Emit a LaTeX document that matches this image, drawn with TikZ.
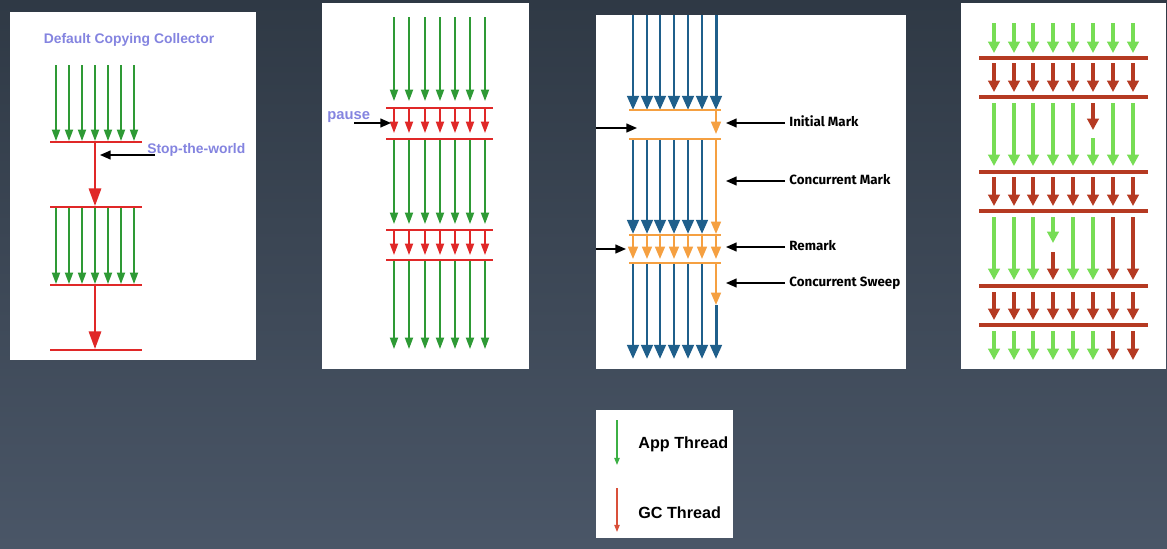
\documentclass[tikz,border=0pt]{standalone}
\usepackage{fontspec}
\setmainfont{Liberation Sans}
\newfontfamily\phasefont{Fira Sans}
\usetikzlibrary{arrows.meta}
\definecolor{bgtop}{HTML}{2F3945}
\definecolor{bgbot}{HTML}{4A5667}
\definecolor{appgreen}{HTML}{2E9A35}
\definecolor{gcred}{HTML}{E02828}
\definecolor{lavender}{HTML}{8484E0}
\definecolor{cmsblue}{HTML}{1F5F8B}
\definecolor{cmsorange}{HTML}{F5A041}
\definecolor{lightgreen}{HTML}{77DD55}
\definecolor{darkred}{HTML}{B53A22}
\definecolor{keygreen}{HTML}{3CB044}
\definecolor{keyred}{HTML}{D9503A}

\tikzset{
  panel/.style={fill=white},
  appthin/.style={draw=appgreen, line width=0.9pt, -{Triangle[width=4.6pt,length=6.5pt]}},
  gcthin/.style={draw=gcred, line width=0.9pt, -{Triangle[width=4.6pt,length=6.5pt]}},
  gcbar/.style={draw=gcred, line width=1.2pt},
  gcbig/.style={draw=gcred, line width=1.2pt, -{Triangle[width=7pt,length=10pt]}},
  pointer/.style={draw=black, line width=0.9pt, -{Triangle[width=5pt,length=6pt]}},
  bluearr/.style={draw=cmsblue, line width=1.7pt, -{Triangle[width=6.5pt,length=8pt]}},
  orangearr/.style={draw=cmsorange, line width=1.3pt, -{Triangle[width=5.5pt,length=7pt]}},
  orangebar/.style={draw=cmsorange, line width=1.2pt},
  fatgreen/.style={draw=lightgreen, line width=2.2pt, -{Triangle[width=6.5pt,length=6.5pt]}},
  fatred/.style={draw=darkred, line width=2.2pt, -{Triangle[width=6.5pt,length=6.5pt]}},
  redbar/.style={draw=darkred, line width=2.3pt},
  lavlabel/.style={inner sep=0pt, text=lavender, font=\bfseries\fontsize{7.9}{9}\selectfont},
  phaselabel/.style={inner sep=0pt, anchor=west, font=\phasefont\bfseries\fontsize{7.6}{9}\selectfont},
  keylabel/.style={inner sep=0pt, anchor=west, font=\bfseries\fontsize{9.2}{11}\selectfont}
}

\begin{document}
\begin{tikzpicture}[x=0.02cm, y=-0.02cm]
      % slide background
      \shade[top color=bgtop, bottom color=bgbot] (0,0) rectangle (1167,548);
      \useasboundingbox (0,0) rectangle (1167,548);

      % serial collector
      \fill[panel] (10,12) rectangle (256,360);
      \node[lavlabel] (serialtitle) at (129,40) {Default Copying Collector};
      \foreach \x in {56,69,82,95,108,121,134} {
        \draw[appthin] (\x,65) -- (\x,141);
        \draw[appthin] (\x,208) -- (\x,284);
      }
      \foreach \y in {142,207,285,350}
        \draw[gcbar] (50,\y) -- (142,\y);
      \draw[gcbig] (95,142) -- (95,206);
      \draw[gcbig] (95,285) -- (95,349);
      \node[lavlabel, anchor=west] (stw) at (147,150) {Stop-the-world};
      \coordinate (stwfrom) at (155,155);
      \coordinate (stwto) at (100,155);
      \draw[pointer] (stwfrom) -- (stwto);

      % parallel collector
      \fill[panel] (322,3) rectangle (529,369);
      \foreach \x in {394,409,425,440,455,470,485} {
        \draw[appthin] (\x,17) -- (\x,101);
        \draw[gcthin] (\x,108) -- (\x,133);
        \draw[appthin] (\x,139) -- (\x,224);
        \draw[gcthin] (\x,230) -- (\x,255);
        \draw[appthin] (\x,260) -- (\x,349);
      }
      \foreach \y in {108,139,230,260}
        \draw[gcbar] (386,\y) -- (493,\y);
      \node[lavlabel, anchor=west, font=\bfseries\fontsize{8.4}{10}\selectfont] (pause) at (327,117) {pause};
      \coordinate (pausefrom) at (354,123);
      \coordinate (pauseto) at (391,123);
      \draw[pointer] (pausefrom) -- (pauseto);

      % cms collector
      \fill[panel] (596,15) rectangle (906,369);
      \foreach \x in {633,647,660,674,688,702,716}
        \draw[bluearr] (\x,15) -- (\x,110);
      \foreach \x in {633,647,660,674,688,702} {
        \draw[bluearr] (\x,139) -- (\x,234);
        \draw[bluearr] (\x,263) -- (\x,359);
      }
      \foreach \x in {633,647,660,674,688,702,716}
        \draw[orangearr] (\x,235) -- (\x,259);
      \draw[orangearr] (716,110) -- (716,134);
      \draw[orangearr] (716,139) -- (716,234);
      \draw[orangearr] (716,263) -- (716,305);
      \draw[bluearr] (716,305) -- (716,359);
      \foreach \y in {110,139,235,263}
        \draw[orangebar] (629,\y) -- (721,\y);
      \node[phaselabel] (initmark) at (789,121) {Initial Mark};
      \node[phaselabel] (concmark) at (789,180) {Concurrent Mark};
      \node[phaselabel] (remark) at (789,246) {Remark};
      \node[phaselabel] (concsweep) at (789,283) {Concurrent Sweep};
      \foreach \n/\y in {initmark/123,concmark/181,remark/247,concsweep/283} {
        \coordinate (\n to) at (726,\y);
        \draw[pointer] (\n.west |- \n to) ++(-4,0) -- (\n to);
      }
      \coordinate (initfrom) at (596,128);
      \coordinate (initto) at (637,128);
      \draw[pointer] (initfrom) -- (initto);
      \coordinate (remfrom) at (596,249);
      \coordinate (remto) at (626,249);
      \draw[pointer] (remfrom) -- (remto);

      % g1 collector
      \fill[panel] (961,3) rectangle (1166,369);
      \foreach \y in {58,97,172,211,286,325}
        \draw[redbar] (979,\y) -- (1148,\y);
      \foreach \x in {994,1014,1033,1053,1073,1093,1113,1133} {
        \draw[fatgreen] (\x,23) -- (\x,53);
        \draw[fatred] (\x,63) -- (\x,92);
        \draw[fatred] (\x,177) -- (\x,206);
        \draw[fatred] (\x,292) -- (\x,320);
      }
      \foreach \x in {994,1014,1033,1053,1073,1113,1133}
        \draw[fatgreen] (\x,103) -- (\x,166);
      \draw[fatred] (1093,103) -- (1093,130);
      \draw[fatgreen] (1093,138) -- (1093,166);
      \foreach \x in {994,1014,1033,1073,1093}
        \draw[fatgreen] (\x,217) -- (\x,280);
      \draw[fatgreen] (1053,217) -- (1053,243);
      \draw[fatred] (1053,252) -- (1053,280);
      \foreach \x in {1113,1133}
        \draw[fatred] (\x,217) -- (\x,280);
      \foreach \x in {994,1014,1033,1053,1073,1093}
        \draw[fatgreen] (\x,331) -- (\x,360);
      \foreach \x in {1113,1133}
        \draw[fatred] (\x,331) -- (\x,360);

      % key
      \fill[panel] (596,410) rectangle (733,538);
      \coordinate (appfrom) at (617,420);
      \coordinate (appto) at (617,465);
      \draw[draw=keygreen, line width=0.8pt, -{Triangle[width=3pt,length=4pt]}] (appfrom) -- (appto);
      \coordinate (gcfrom) at (617,488);
      \coordinate (gcto) at (617,532);
      \draw[draw=keyred, line width=0.8pt, -{Triangle[width=3pt,length=4pt]}] (gcfrom) -- (gcto);
      \node[keylabel] (applabel) at (638,444) {App Thread};
      \node[keylabel] (gclabel) at (638,513) {GC Thread};
    \end{tikzpicture}
\end{document}
